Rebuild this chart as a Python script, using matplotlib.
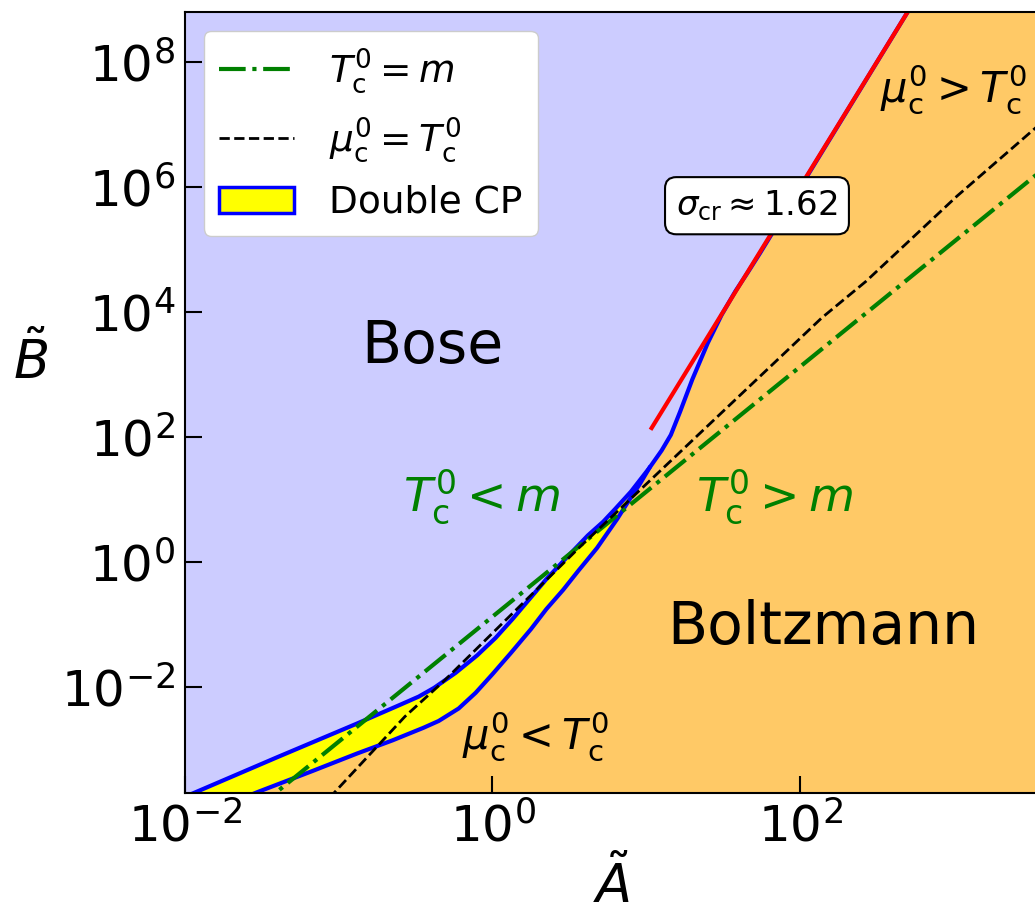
import numpy as np
import matplotlib
matplotlib.use("Agg")
import matplotlib.pyplot as plt
from matplotlib.patches import Patch

# ---- data (log10 of A-tilde and B-tilde) ----
upper_logA = [-2.10, -1.94, -1.40, -0.88, -0.60, -0.48, -0.38, -0.24, -0.10, 0.02,
              0.13, 0.24, 0.35, 0.48, 0.62, 0.72, 0.80, 0.90, 1.02, 1.10,
              1.16, 1.22, 1.30, 1.40, 1.49, 1.58, 1.66, 1.74, 2.75]
upper_logB = [-3.87, -3.70, -3.13, -2.59, -2.29, -2.16, -2.02, -1.78, -1.50, -1.22,
              -0.92, -0.60, -0.28, 0.06, 0.42, 0.64, 0.85, 1.12, 1.50, 1.78,
              2.03, 2.40, 2.92, 3.50, 3.95, 4.33, 4.63, 4.94, 9.00]
n_merge = 19  # upper boundary points up to where the two branches meet

lower_logA = [-1.72, -1.53, -1.17, -0.88, -0.65, -0.45, -0.35, -0.22, -0.11, 0.0,
              0.12, 0.25, 0.35, 0.46, 0.56, 0.68, 0.81, 0.89, 0.96, 1.02]
lower_logB = [-3.88, -3.69, -3.35, -3.07, -2.86, -2.66, -2.55, -2.35, -2.10, -1.80,
              -1.46, -1.08, -0.76, -0.45, -0.14, 0.22, 0.68, 0.99, 1.25, 1.50]

green_logA = [-2.0, 0.0, 1.0, 2.0, 3.6]
green_logB = [-4.88, -0.88, 1.12, 3.12, 6.32]

black_logA = [-1.20, -1.03, -0.57, -0.32, 0.57, 2.14, 2.43, 3.02, 3.60]
black_logB = [-4.12, -3.70, -2.48, -1.92, 0.24, 3.90, 4.49, 5.85, 7.09]

red_logA = [1.035, 2.80]
red_logB = [2.14, 9.20]

xlim_log = (-2.0, 3.548)
ylim_log = (-3.695, 8.80)

A_up, B_up = 10.0 ** np.array(upper_logA), 10.0 ** np.array(upper_logB)
A_lo, B_lo = 10.0 ** np.array(lower_logA), 10.0 ** np.array(lower_logB)

lavender = "#ccccff"
orange = "#ffc966"

fig = plt.figure(figsize=(10.35, 9.16), dpi=100)
W, H = 1035, 916
ax = fig.add_axes([185 / W, (H - 792.5) / H, 853 / W, 780.5 / H])
ax.set_xscale("log")
ax.set_yscale("log")
ax.set_xlim(10 ** xlim_log[0], 10 ** xlim_log[1])
ax.set_ylim(10 ** ylim_log[0], 10 ** ylim_log[1])
ax.set_facecolor(orange)

# Bose region (above the upper boundary)
top = 1e12
poly_x = np.concatenate([[1e-3], A_up, [A_up[-1], 1e-3]])
poly_y = np.concatenate([[B_up[0]], B_up, [top, top]])
ax.fill(poly_x, poly_y, color=lavender, lw=0, zorder=1)

# Double CP region
dx = np.concatenate([A_up[:n_merge], A_lo[::-1]])
dy = np.concatenate([B_up[:n_merge], B_lo[::-1]])
ax.fill(dx, dy, color="yellow", lw=0, zorder=2)

ax.plot(A_up, B_up, color="blue", lw=3, zorder=4, solid_joinstyle="round")
ax.plot(A_lo, B_lo, color="blue", lw=3, zorder=4, solid_joinstyle="round")

ax.plot(10.0 ** np.array(red_logA), 10.0 ** np.array(red_logB), color="red", lw=3, zorder=5)
ax.plot(10.0 ** np.array(green_logA), 10.0 ** np.array(green_logB), color="green",
        lw=3, ls="-.", zorder=6)
ax.plot(10.0 ** np.array(black_logA), 10.0 ** np.array(black_logB), color="black",
        lw=2, ls="--", zorder=6)

# texts
ax.text(0.404, 2750, "Bose", fontsize=42, ha="center", va="center", zorder=7)
ax.text(141, 0.09, "Boltzmann", fontsize=42, ha="center", va="center", zorder=7)
ax.text(0.855, 10.9, r"$T_{\rm c}^0 < m$", fontsize=34, color="green",
        ha="center", va="center", zorder=7)
ax.text(68.7, 10.9, r"$T_{\rm c}^0 > m$", fontsize=34, color="green",
        ha="center", va="center", zorder=7)
ax.text(1.89, 1.6e-3, r"$\mu_{\rm c}^0 < T_{\rm c}^0$", fontsize=30,
        ha="center", va="center", zorder=7)
ax.text(988, 3.6e7, r"$\mu_{\rm c}^0 > T_{\rm c}^0$", fontsize=30,
        ha="center", va="center", zorder=7)
ax.text(52.5, 5.0e5, r"$\sigma_{\rm cr} \approx 1.62$", fontsize=24.5,
        ha="center", va="center", zorder=8,
        bbox=dict(boxstyle="round,pad=0.33", fc="white", ec="black", lw=1.5))

# ticks
ax.set_xticks([1e-2, 1e0, 1e2])
ax.set_yticks([1e-2, 1e0, 1e2, 1e4, 1e6, 1e8])
ax.minorticks_off()
ax.tick_params(axis="both", which="major", direction="in", length=12, width=1.5,
               labelsize=36, pad=7)
for s in ax.spines.values():
    s.set_linewidth(1.5)
    s.set_zorder(10)

ax.set_xlabel(r"$\tilde{A}$", fontsize=38)
ax.set_ylabel(r"$\tilde{B}$", fontsize=38, rotation=0, ha="center", va="center")
ax.xaxis.set_label_coords(0.5, -0.083)
ax.yaxis.set_label_coords((30 - 185) / 853, (792.5 - 362) / 780.5)

handles = [
    plt.Line2D([], [], color="green", lw=3, ls="-."),
    plt.Line2D([], [], color="black", lw=2, ls="--"),
    Patch(facecolor="yellow", edgecolor="blue", lw=2.5),
]
labels = [r"$T_{\rm c}^0 = m$", r"$\mu_{\rm c}^0 = T_{\rm c}^0$", "Double CP"]
leg = ax.legend(handles, labels, loc="upper left", fontsize=27, framealpha=1,
                bbox_to_anchor=(0.0, 1.0), borderaxespad=0.5, labelspacing=0.55,
                handletextpad=0.95)
leg.set_zorder(20)

fig.savefig("out.png", dpi=100)
